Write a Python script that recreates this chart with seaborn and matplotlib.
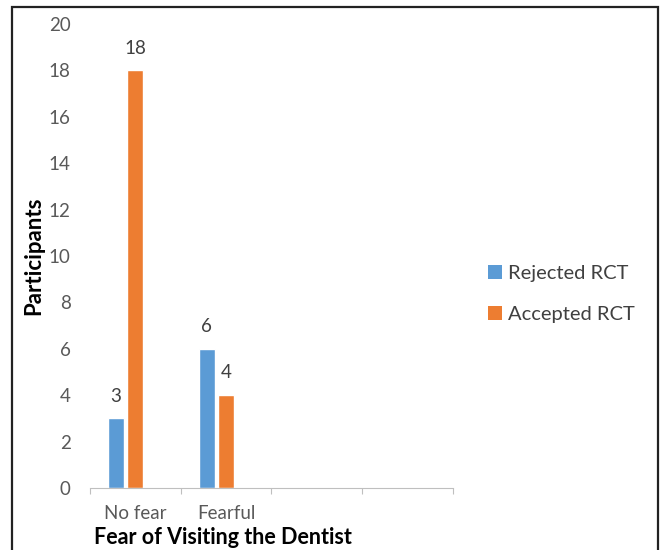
import matplotlib
matplotlib.use("Agg")
import matplotlib.pyplot as plt
from matplotlib.patches import Rectangle, Patch
import seaborn as sns
import pandas as pd

# Participants by fear of the dentist and root-canal-treatment decision
categories = ["No fear", "Fearful"]
empty_slots = [" ", "  "]
series = ["Rejected RCT", "Accepted RCT"]
rejected = [3, 6]
accepted = [18, 4]
colors = ["#5B9BD5", "#ED7D31"]

rows = []
for cat, r, a in zip(categories, rejected, accepted):
    rows.append({"fear": cat, "decision": series[0], "n": r})
    rows.append({"fear": cat, "decision": series[1], "n": a})
df = pd.DataFrame(rows)

sns.set_style("white")
plt.rcParams["font.family"] = ["Lato", "DejaVu Sans"]

fig = plt.figure(figsize=(6.61, 5.50), dpi=100)
ax = fig.add_axes([0.1362, 0.1127, 0.549, 0.8436])

# a third, unused hue slot keeps each bar pair left of its category centre
hue_order = series + ["_blank"]
palette = {series[0]: colors[0], series[1]: colors[1], "_blank": "white"}
sns.barplot(data=df, x="fear", y="n", hue="decision",
            order=categories + empty_slots, hue_order=hue_order,
            palette=palette, width=0.643, gap=0.18, dodge=True,
            errorbar=None, legend=False, ax=ax, saturation=1)

for cont in ax.containers:
    labels = [f"{v:g}" if v == v else "" for v in cont.datavalues]
    ax.bar_label(cont, labels=labels, padding=10, fontsize=13.5, color="#404040")

ax.set_xlim(-0.5, 3.5)
ax.set_ylim(0, 20)
ax.set_yticks(range(0, 21, 2))
ax.tick_params(axis="y", length=0, pad=14, labelsize=13.5, labelcolor="#595959")
ax.set_xticks(range(4))
ax.set_xticklabels(categories + empty_slots)
ax.set_xticks([-0.5, 0.5, 1.5, 2.5, 3.5], minor=True)
ax.tick_params(axis="x", which="major", length=0, pad=12, labelsize=13.5,
               labelcolor="#595959")
ax.tick_params(axis="x", which="minor", length=4, width=0.8, color="#BFBFBF",
               bottom=True)
for s in ["left", "right", "top"]:
    ax.spines[s].set_visible(False)
ax.spines["bottom"].set_color("#BFBFBF")
ax.spines["bottom"].set_linewidth(0.8)
ax.set_xlabel("")
ax.set_ylabel("")

fig.text(34 / 661, 1 - 256 / 550, "Participants", rotation=90, ha="center",
         va="center", fontsize=16, fontweight="bold", color="black")
fig.text(223 / 661, 1 - 537 / 550, "Fear of Visiting the Dentist", ha="center",
         va="center", fontsize=15.5, fontweight="bold", color="black")

handles = [Patch(facecolor=c, edgecolor="none") for c in colors]
fig.legend(handles, series, loc="center left",
           bbox_to_anchor=(470 / 661, 1 - 294 / 550), frameon=False,
           fontsize=14.5, labelcolor="#404040", handlelength=0.7,
           handleheight=0.7, handletextpad=0.3, labelspacing=1.2)

# outer frame around the chart
fig.patches.append(Rectangle((12 / 661, -0.05), (658 - 12) / 661, 1.05 - 7 / 550,
                             transform=fig.transFigure, fill=False,
                             edgecolor="#222222", linewidth=1.6))

fig.savefig("out.png", dpi=100)
